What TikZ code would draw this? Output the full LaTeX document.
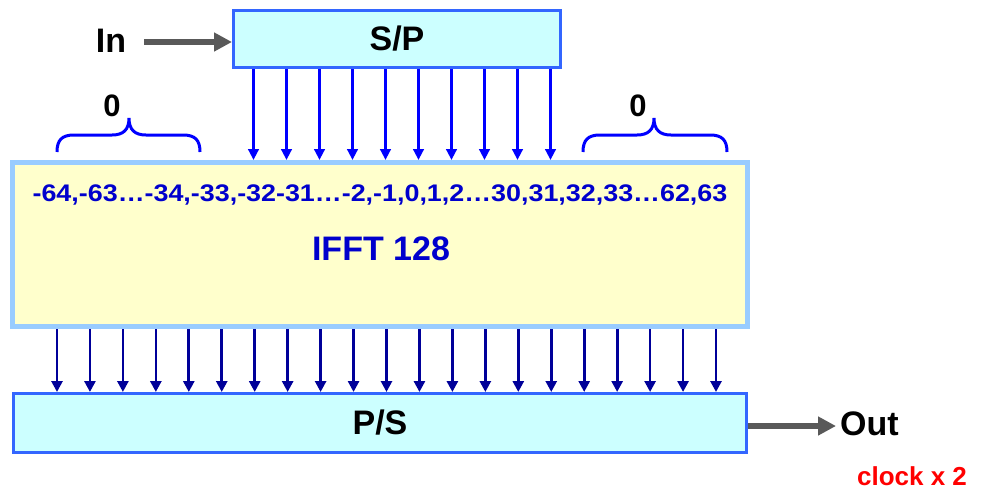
\documentclass[tikz,border=0pt]{standalone}
\usepackage{fontspec}
\setmainfont{Liberation Sans}
\usetikzlibrary{arrows.meta}
\definecolor{boxfill}{HTML}{CCFFFF}
\definecolor{boxline}{HTML}{3366FF}
\definecolor{ifftfill}{HTML}{FFFFCC}
\definecolor{ifftline}{HTML}{99CCFF}
\definecolor{topblue}{HTML}{0000FF}
\definecolor{navyblue}{HTML}{000099}
\definecolor{txtblue}{HTML}{0000CC}
\definecolor{grayarr}{HTML}{595959}
\begin{document}
\begin{tikzpicture}[x=1pt,y=-1pt,
  block/.style={draw=boxline, fill=boxfill, line width=3pt, inner sep=0pt,
    font=\fontsize{34}{34}\selectfont\bfseries},
  ifftbox/.style={draw=ifftline, fill=ifftfill, line width=5pt, inner sep=0pt},
  lbl/.style={inner sep=0pt, anchor=base, font=\fontsize{34}{34}\selectfont\bfseries},
  zerolbl/.style={inner sep=0pt, anchor=base, font=\fontsize{31}{31}\selectfont\bfseries},
  toparrow/.style={draw=topblue, line width=3pt, -{Triangle[length=11pt,width=10.5pt]}},
  botarrow/.style={draw=navyblue, line width=2.7pt, -{Triangle[length=11pt,width=11pt]}},
  grayarrow/.style={draw=grayarr, line width=6pt, -{Triangle[length=18pt,width=18pt]}},
  bracestyle/.style={draw=topblue, line width=3pt}
]
\useasboundingbox (0,0) rectangle (982,493);

% boxes
\node[block, minimum width=327pt, minimum height=57pt] (sp) at (397,39) {S/P};
\node[ifftbox, minimum width=735pt, minimum height=164pt] (ifft) at (380,244.5) {};
\node[block, minimum width=733pt, minimum height=59pt] (ps) at (380,423) {P/S};

% texts in IFFT
\node[inner sep=0pt, anchor=base, text=txtblue, font=\fontsize{24}{24}\selectfont\bfseries] (nums) at (380,201.5)
  {\scalebox{1.12}[1]{-64,-63…-34,-33,-32-31…-2,-1,0,1,2…30,31,32,33…62,63}};
\node[lbl, text=txtblue] (title) at (381,260) {IFFT 128};

% input / output
\node[lbl] (in) at (111,52) {In};
\coordinate (inStart) at (144,42);
\draw[grayarrow] (inStart) -- (sp.west |- inStart);

\node[lbl, anchor=base west] (out) at (840,435) {Out};
\coordinate (outEnd) at (836,426);
\draw[grayarrow] (ps.east |- outEnd) -- (outEnd);

\node[inner sep=0pt, anchor=base, text=red, font=\fontsize{26}{26}\selectfont\bfseries] (clk) at (912,485) {clock x 2};

% S/P -> IFFT arrows
\foreach \i in {0,...,9} {
  \coordinate (t\i) at ({253.5+33*\i},0);
  \draw[toparrow] (t\i |- sp.south) -- (t\i |- ifft.north);
}

% IFFT -> P/S arrows
\foreach \i in {0,...,20} {
  \coordinate (b\i) at ({57+32.95*\i},0);
  \draw[botarrow] (b\i |- ifft.south) -- (b\i |- ps.north);
}

% braces
\draw[bracestyle] (57,152) .. controls (57,140) and (62,135) .. (74,135) -- (112,135)
  .. controls (123,135) and (129,130) .. (129,118)
  .. controls (129,130) and (135,135) .. (146,135) -- (183,135)
  .. controls (195,135) and (200,140) .. (200,152);
\node[zerolbl] (zl) at (112,116) {0};

\draw[bracestyle] (583,152) .. controls (583,140) and (588,135) .. (600,135) -- (637,135)
  .. controls (648,135) and (654,130) .. (654,118)
  .. controls (654,130) and (660,135) .. (671,135) -- (710,135)
  .. controls (722,135) and (727,140) .. (727,152);
\node[zerolbl] (zr) at (638,116) {0};
\end{tikzpicture}
\end{document}
